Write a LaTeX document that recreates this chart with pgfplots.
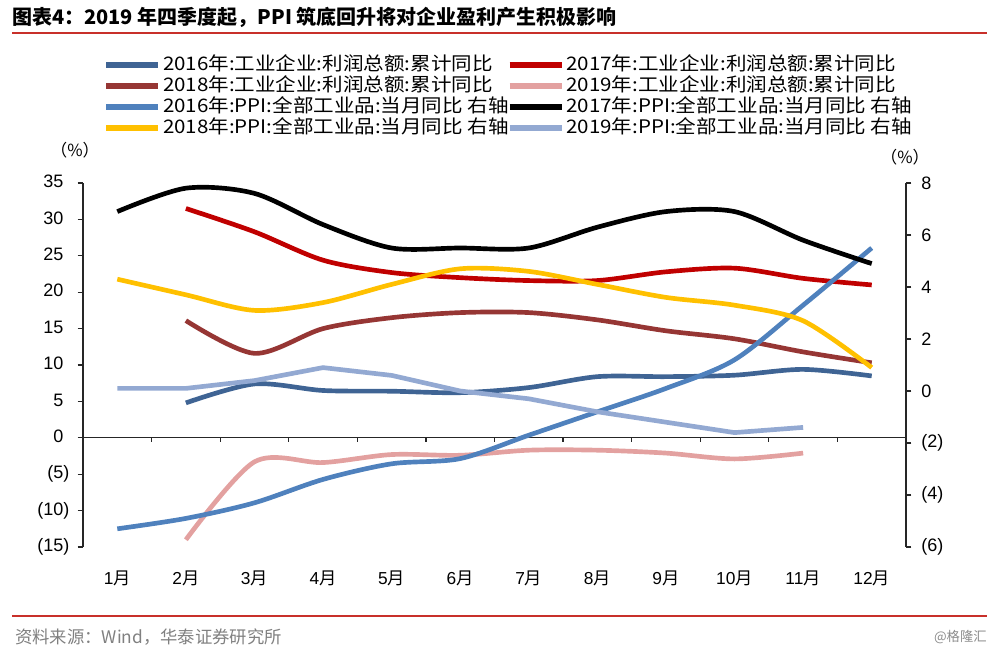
\documentclass[border=0pt]{standalone}
\usepackage{pgfplots}
\pgfplotsset{compat=1.18}
\usepackage{graphicx}
\usepackage{fontspec}
\setmainfont{Liberation Sans}
\newfontfamily\cjk{Noto Sans CJK SC}
\newcommand\yue{{\cjk 月}}
\newcommand\lgx[1]{\scalebox{1.1}[1.0]{#1}}
\definecolor{cA}{HTML}{3F6494}
\definecolor{cB}{HTML}{C00000}
\definecolor{cC}{HTML}{963634}
\definecolor{cD}{HTML}{E3A1A0}
\definecolor{cE}{HTML}{4F81BD}
\definecolor{cF}{HTML}{000000}
\definecolor{cG}{HTML}{FFC000}
\definecolor{cH}{HTML}{93A9D2}
\definecolor{redline}{HTML}{C8302A}
\begin{document}
\begin{tikzpicture}[x=0.75pt,y=-0.75pt]
\path[use as bounding box] (0,0) rectangle (1000,654);
\node[anchor=west, inner sep=0pt, font=\cjk\bfseries\fontsize{15}{16}\selectfont] at (12,17) {图表4：2019 年四季度起，PPI 筑底回升将对企业盈利产生积极影响};
\draw[color=redline, line width=2.2pt] (12,33) -- (987,33);
\draw[color=redline, line width=2.2pt] (12,616) -- (987,616);
\node[anchor=west, inner sep=0pt, text=black!50, font=\cjk\fontsize{13}{14}\selectfont] at (15,637) {资料来源：Wind，华泰证券研究所};
\node[anchor=east, inner sep=0pt, text=black!45, font=\cjk\fontsize{10}{12}\selectfont] at (987,637) {@格隆汇};
\node[font=\cjk\fontsize{12.5}{14}\selectfont] at (75,150) {（\%）};
\node[font=\cjk\fontsize{12.5}{14}\selectfont] at (905,157) {（\%）};

\begin{axis}[
  at={(62.25pt,-410.25pt)}, anchor=south west,
  scale only axis, width=617.25pt, height=273pt,
  xmin=0.5, xmax=12.5, ymin=-15, ymax=35,
  axis y line*=left, axis x line*=bottom,
  x axis line style={draw=none},
  y axis line style={line width=0.9pt, color=black!85},
  xtick={1,...,12},
  xticklabels={1\yue,2\yue,3\yue,4\yue,5\yue,6\yue,7\yue,8\yue,9\yue,10\yue,11\yue,12\yue},
  major x tick style={draw=none},
  xticklabel style={font=\fontsize{13}{14}\selectfont, yshift=-10pt},
  ytick={-15,-10,...,35},
  yticklabels={{(15)},{(10)},{(5)},{0\phantom{)}},{5\phantom{)}},{10\phantom{)}},{15\phantom{)}},{20\phantom{)}},{25\phantom{)}},{30\phantom{)}},{35\phantom{)}}},
  yticklabel style={font=\fontsize{13.5}{14}\selectfont, xshift=-2.75pt},
  tick align=outside, major tick length=4pt,
  major y tick style={line width=0.9pt, color=black!85},
  clip=false,
]
\draw[line width=0.9pt, color=black!85] (axis cs:0.5,0) -- (axis cs:12.5,0);
\pgfplotsinvokeforeach{1.5,2.5,3.5,4.5,5.5,6.5,7.5,8.5,9.5,10.5,11.5}{\draw[line width=0.9pt, color=black!85] (axis cs:#1,0) -- ++(0pt,-3.5pt);}
\addplot[cA, line width=3.5pt, smooth, tension=0.5] coordinates {(2,4.8)(3,7.4)(4,6.5)(5,6.4)(6,6.2)(7,6.9)(8,8.4)(9,8.4)(10,8.6)(11,9.4)(12,8.5)};
\addplot[cB, line width=3.5pt, smooth, tension=0.5] coordinates {(2,31.5)(3,28.3)(4,24.4)(5,22.7)(6,22.0)(7,21.6)(8,21.6)(9,22.8)(10,23.3)(11,21.9)(12,21.0)};
\addplot[cC, line width=3.5pt, smooth, tension=0.5] coordinates {(2,16.1)(3,11.6)(4,15.0)(5,16.5)(6,17.2)(7,17.2)(8,16.2)(9,14.7)(10,13.6)(11,11.8)(12,10.3)};
\addplot[cD, line width=3.5pt, smooth, tension=0.5] coordinates {(2,-14.0)(3,-3.3)(4,-3.4)(5,-2.3)(6,-2.4)(7,-1.7)(8,-1.7)(9,-2.1)(10,-2.9)(11,-2.1)};
\end{axis}

\begin{axis}[
  at={(62.25pt,-410.25pt)}, anchor=south west,
  scale only axis, width=617.25pt, height=273pt,
  xmin=0.5, xmax=12.5, ymin=-6, ymax=8,
  axis y line*=right, axis x line=none,
  y axis line style={line width=0.9pt, color=black!85},
  ytick={-6,-4,...,8},
  yticklabels={{(6)},{(4)},{(2)},0,2,4,6,8},
  yticklabel style={font=\fontsize{13.5}{14}\selectfont, xshift=4pt},
  tick align=outside, major tick length=4pt,
  major y tick style={line width=0.9pt, color=black!85},
  clip=false,
  legend columns=2,
  legend cell align=left,
  legend image code/.code={\draw[#1, line width=5pt] (0pt,0pt) -- (39pt,0pt);},
  legend style={at={(0.0243,1.3485)}, anchor=north west, draw=none, fill=none,
    inner sep=0pt, outer sep=0pt, row sep=2.25pt,
    font=\cjk\fontsize{14}{14}\selectfont,
    nodes={inner xsep=1pt, inner ysep=0pt, text height=10.5pt, text depth=3pt, xshift=-4.5pt}},
]
\addlegendimage{cA}\addlegendentry{\makebox[256.5pt][l]{\lgx{2016年:工业企业:利润总额:累计同比}}}
\addlegendimage{cB}\addlegendentry{\lgx{2017年:工业企业:利润总额:累计同比}}
\addlegendimage{cC}\addlegendentry{\makebox[256.5pt][l]{\lgx{2018年:工业企业:利润总额:累计同比}}}
\addlegendimage{cD}\addlegendentry{\lgx{2019年:工业企业:利润总额:累计同比}}
\addplot[cE, line width=3.5pt, smooth, tension=0.5] coordinates {(1,-5.3)(2,-4.9)(3,-4.3)(4,-3.4)(5,-2.8)(6,-2.6)(7,-1.7)(8,-0.8)(9,0.1)(10,1.2)(11,3.3)(12,5.5)};
\addlegendentry{\makebox[256.5pt][l]{\lgx{2016年:PPI:全部工业品:当月同比 右轴}}}
\addplot[cF, line width=3.5pt, smooth, tension=0.5] coordinates {(1,6.9)(2,7.8)(3,7.6)(4,6.4)(5,5.5)(6,5.5)(7,5.5)(8,6.3)(9,6.9)(10,6.9)(11,5.8)(12,4.9)};
\addlegendentry{\lgx{2017年:PPI:全部工业品:当月同比 右轴}}
\addplot[cG, line width=3.5pt, smooth, tension=0.5] coordinates {(1,4.3)(2,3.7)(3,3.1)(4,3.4)(5,4.1)(6,4.7)(7,4.6)(8,4.1)(9,3.6)(10,3.3)(11,2.7)(12,0.9)};
\addlegendentry{\makebox[256.5pt][l]{\lgx{2018年:PPI:全部工业品:当月同比 右轴}}}
\addplot[cH, line width=3.5pt] coordinates {(1,0.1)(2,0.1)(3,0.4)(4,0.9)(5,0.6)(6,0.0)(7,-0.3)(8,-0.8)(9,-1.2)(10,-1.6)(11,-1.4)};
\addlegendentry{\lgx{2019年:PPI:全部工业品:当月同比 右轴}}
\end{axis}
\end{tikzpicture}
\end{document}
